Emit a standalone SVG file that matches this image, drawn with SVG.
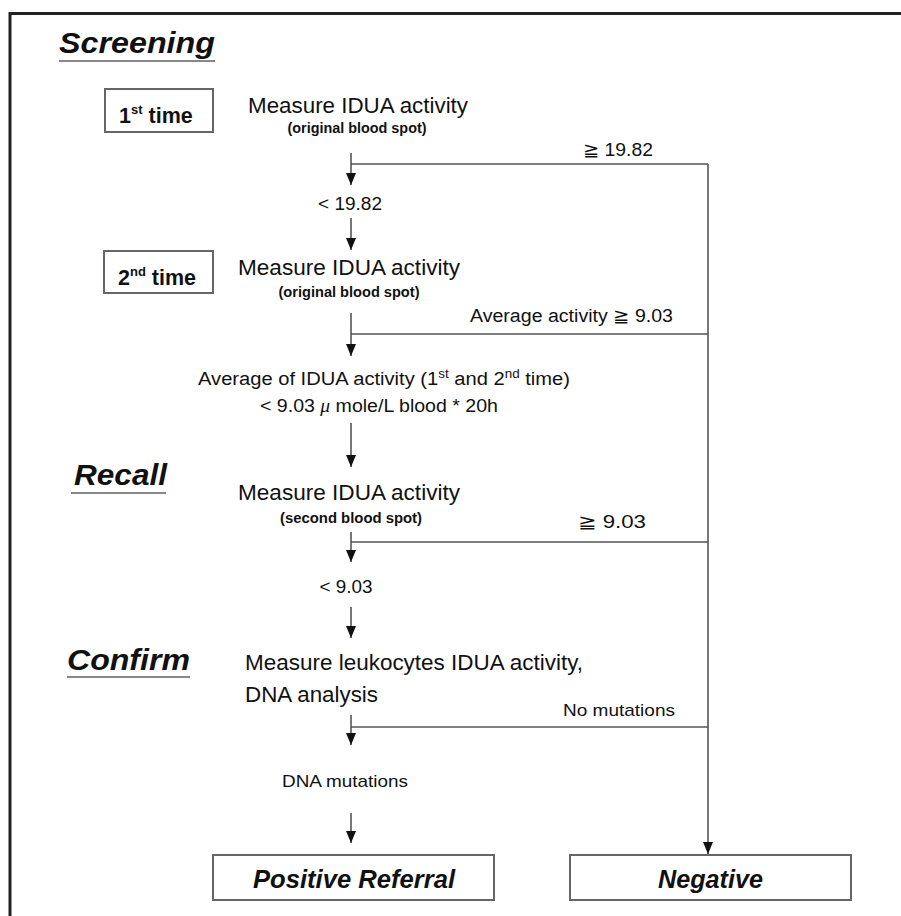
<svg xmlns="http://www.w3.org/2000/svg" width="901" height="916" viewBox="0 0 901 916">
<style>
text{font-family:"Liberation Sans",Arial,sans-serif;fill:#111}
.t{font-size:21.5px}
.s{font-size:14px;font-weight:bold}
.m{font-size:18px}
.b{font-weight:bold}
.h{font-size:29px;font-weight:bold;font-style:italic}
.big{font-size:25px;font-weight:bold;font-style:italic}
.box{fill:#fff;stroke:#666;stroke-width:2}
.ln{stroke:#555;stroke-width:1.6;fill:none}
.ul{stroke:#888;stroke-width:2}
.fr{stroke:#222;stroke-width:3;fill:none}
</style>
<defs>
<marker id="ah" viewBox="0 0 12 10" refX="12" refY="5" markerWidth="12" markerHeight="10" markerUnits="userSpaceOnUse" orient="auto">
<path d="M0,0 L12,5 L0,10 Z" fill="#111"/>
</marker>
</defs>
<rect width="901" height="916" fill="#fff"/>
<path class="fr" d="M10,916 V13.5 H901"/>

<g id="headers">
<text class="h" x="59" y="53" textLength="156" lengthAdjust="spacingAndGlyphs">Screening</text>
<line class="ul" x1="59" y1="61" x2="215" y2="61"/>
<text class="h" x="74" y="485" textLength="93" lengthAdjust="spacingAndGlyphs">Recall</text>
<line class="ul" x1="71" y1="493" x2="166" y2="493"/>
<text class="h" x="67" y="670" textLength="123" lengthAdjust="spacingAndGlyphs">Confirm</text>
<line class="ul" x1="67" y1="677" x2="190" y2="677"/>
</g>

<g id="first-time">
<rect class="box" x="105" y="89" width="108" height="43"/>
<text class="b" x="119" y="123" style="font-size:21.5px">1<tspan font-size="13" dy="-9">st</tspan><tspan dy="9"> time</tspan></text>
</g>
<g id="measure1">
<text class="t" x="358" y="113" text-anchor="middle" textLength="220" lengthAdjust="spacingAndGlyphs">Measure IDUA activity</text>
<text class="s" x="357" y="133" text-anchor="middle" textLength="139" lengthAdjust="spacingAndGlyphs">(original blood spot)</text>
</g>
<g id="lt1982"><text class="m" x="350" y="210" text-anchor="middle" textLength="64" lengthAdjust="spacingAndGlyphs">&lt; 19.82</text></g>

<g id="second-time">
<rect class="box" x="104" y="251" width="109" height="42"/>
<text class="b" x="118" y="285" style="font-size:21.5px">2<tspan font-size="13" dy="-9">nd</tspan><tspan dy="9"> time</tspan></text>
</g>
<g id="measure2">
<text class="t" x="349" y="275" text-anchor="middle" textLength="222" lengthAdjust="spacingAndGlyphs">Measure IDUA activity</text>
<text class="s" x="349" y="297" text-anchor="middle" textLength="141" lengthAdjust="spacingAndGlyphs">(original blood spot)</text>
</g>

<g id="average">
<text class="m" x="198" y="385" textLength="372" lengthAdjust="spacingAndGlyphs">Average of IDUA activity (1<tspan font-size="12" dy="-7">st</tspan><tspan dy="7"> and 2</tspan><tspan font-size="12" dy="-7">nd</tspan><tspan dy="7"> time)</tspan></text>
<text class="m" x="260" y="412" textLength="238" lengthAdjust="spacingAndGlyphs">&lt; 9.03  <tspan font-style="italic" font-family="Liberation Serif,serif">μ</tspan> mole/L blood * 20h</text>
</g>

<g id="measure3">
<text class="t" x="349" y="500" text-anchor="middle" textLength="222" lengthAdjust="spacingAndGlyphs">Measure IDUA activity</text>
<text class="s" x="351" y="523" text-anchor="middle" textLength="142" lengthAdjust="spacingAndGlyphs">(second blood spot)</text>
</g>
<g id="lt903"><text class="m" x="346" y="593" text-anchor="middle" textLength="53" lengthAdjust="spacingAndGlyphs">&lt; 9.03</text></g>

<g id="confirm-step">
<text class="t" x="245" y="670" textLength="338" lengthAdjust="spacingAndGlyphs">Measure leukocytes IDUA activity,</text>
<text class="t" x="245" y="702" textLength="133" lengthAdjust="spacingAndGlyphs">DNA analysis</text>
</g>
<g id="dna-mut"><text x="345" y="787" text-anchor="middle" textLength="126" lengthAdjust="spacingAndGlyphs" style="font-size:17px">DNA mutations</text></g>

<g id="positive">
<rect class="box" x="213" y="855" width="281" height="45"/>
<text class="big" x="354" y="888" text-anchor="middle" textLength="202" lengthAdjust="spacingAndGlyphs">Positive Referral</text>
</g>
<g id="negative">
<rect class="box" x="570" y="855" width="281" height="45"/>
<text class="big" x="710.5" y="888" text-anchor="middle" textLength="105" lengthAdjust="spacingAndGlyphs">Negative</text>
</g>

<g id="connectors">
<line class="ln" x1="351" y1="153" x2="351" y2="185" marker-end="url(#ah)"/>
<line class="ln" x1="351" y1="164" x2="708" y2="164"/>
<line class="ln" x1="351" y1="218" x2="351" y2="250" marker-end="url(#ah)"/>
<line class="ln" x1="351" y1="313" x2="351" y2="356" marker-end="url(#ah)"/>
<line class="ln" x1="351" y1="334" x2="708" y2="334"/>
<line class="ln" x1="351" y1="423" x2="351" y2="467" marker-end="url(#ah)"/>
<line class="ln" x1="351" y1="532" x2="351" y2="562" marker-end="url(#ah)"/>
<line class="ln" x1="351" y1="542" x2="708" y2="542"/>
<line class="ln" x1="351" y1="607" x2="351" y2="638" marker-end="url(#ah)"/>
<line class="ln" x1="351" y1="715" x2="351" y2="745" marker-end="url(#ah)"/>
<line class="ln" x1="351" y1="727" x2="708" y2="727"/>
<line class="ln" x1="351" y1="813" x2="351" y2="843" marker-end="url(#ah)"/>
<line class="ln" x1="708" y1="164" x2="708" y2="854" marker-end="url(#ah)"/>
<text class="m" x="583" y="156" textLength="70" lengthAdjust="spacingAndGlyphs">≧ 19.82</text>
<text class="m" x="470" y="322" textLength="203" lengthAdjust="spacingAndGlyphs">Average activity ≧ 9.03</text>
<text class="m" x="578" y="528" textLength="68" lengthAdjust="spacingAndGlyphs">≧ 9.03</text>
<text x="563" y="716" textLength="112" lengthAdjust="spacingAndGlyphs" style="font-size:17px">No mutations</text>
</g>
</svg>
